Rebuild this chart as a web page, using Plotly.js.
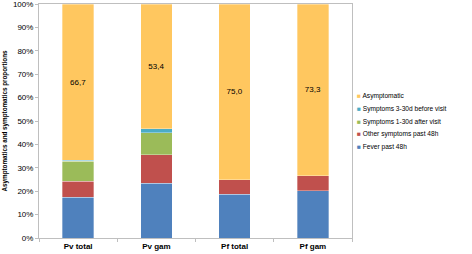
<!DOCTYPE html>
<html><head><meta charset="utf-8">
<script src="https://cdn.plot.ly/plotly-3.0.1.min.js"></script>
<style>html,body{margin:0;padding:0;background:#fff}#chart{width:472px;height:254px}</style>
</head><body><div id="chart"></div>
<script>
const categories = ["Pv total", "Pv gam", "Pf total", "Pf gam"];
const feverPast48h = [17.4, 23.4, 18.8, 20.1];
const otherSymptoms48h = [6.8, 12.1, 6.2, 6.6];
const symptomsAfterVisit = [8.6, 9.5, 0, 0];
const symptomsBeforeVisit = [0.5, 1.6, 0, 0];
const asymptomatic = [66.7, 53.4, 75.0, 73.3];
const asymptomaticLabels = ["66,7", "53,4", "75,0", "73,3"];
const seriesNames = ["Fever past 48h", "Other symptoms past 48h", "Symptoms 1-30d after visit", "Symptoms 3-30d before visit", "Asymptomatic"];
const seriesColors = ["#4F81BD", "#C0504D", "#9BBB59", "#4BACC6", "#FFC75F"];
const seriesValues = [feverPast48h, otherSymptoms48h, symptomsAfterVisit, symptomsBeforeVisit, asymptomatic];
const yTickVals = [0,10,20,30,40,50,60,70,80,90,100];
const yTickText = ["0%","10%","20%","30%","40%","50%","60%","70%","80%","90%","100%"];

const FONT = "Liberation Sans, Arial, sans-serif";

const traces = seriesValues.map((vals, i) => ({
  type: "bar",
  x: categories,
  y: vals,
  name: seriesNames[i],
  marker: {color: seriesColors[i], line: {color: "rgba(255,255,255,0.55)", width: 0.6}},
  text: i === 4 ? asymptomaticLabels : undefined,
  textposition: i === 4 ? "inside" : "none",
  insidetextanchor: "middle",
  textangle: 0,
  textfont: {family: FONT, size: 8, color: "#000"},
  hoverinfo: "skip",
  showlegend: false
}));

// legend drawn as text entries, top = last series
const legendY = [0.607, 0.553, 0.497, 0.444, 0.390];
const annotations = [];
for (let k = 0; k < 5; k++) {
  const i = 4 - k;
  annotations.push({
    xref: "paper", yref: "paper", x: 1.008, y: legendY[k],
    xanchor: "left", yanchor: "middle", showarrow: false,
    text: '<span style="color:' + seriesColors[i] + '">■</span> ' + seriesNames[i],
    font: {family: FONT, size: 6.6, color: "#000"}
  });
}

const layout = {
  width: 472, height: 254,
  margin: {l: 39, r: 120, t: 4, b: 16},
  barmode: "stack",
  bargap: 0.6,
  paper_bgcolor: "#fff", plot_bgcolor: "#fff",
  showlegend: false,
  font: {family: FONT, size: 8, color: "#000"},
  xaxis: {
    range: [-0.5, 3.5],
    showline: true, linecolor: "#BFBFBF", linewidth: 1, mirror: true,
    ticks: "outside", tickson: "boundaries", ticklen: 3, tickcolor: "#BFBFBF",
    tickfont: {family: FONT, size: 8, color: "#000", weight: "bold"},
    showgrid: false, zeroline: false
  },
  yaxis: {
    range: [0, 100],
    tickvals: yTickVals, ticktext: yTickText,
    showline: true, linecolor: "#BFBFBF", linewidth: 1, mirror: true,
    ticks: "outside", ticklen: 3, tickcolor: "#BFBFBF",
    ticklabeloverflow: "allow",
    tickfont: {family: FONT, size: 8, color: "#000"},
    showgrid: false, zeroline: false,
    title: {text: "<b>Asymptomatics and symptomatics proportions</b>", font: {family: FONT, size: 6.3, color: "#000"}, standoff: 4}
  },
  annotations: annotations
};

Plotly.newPlot("chart", traces, layout, {staticPlot: true, displayModeBar: false});
</script></body></html>
